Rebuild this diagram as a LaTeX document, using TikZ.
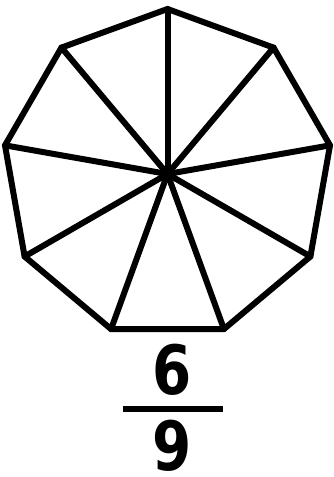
\documentclass[tikz,border=0pt]{standalone}
\usepackage{fontspec}
\usetikzlibrary{calc}
\newfontfamily\digitfont{DejaVu Sans Condensed}[BoldFont={DejaVu Sans Condensed Bold}]
\begin{document}
\begin{tikzpicture}[x=1pt,y=-1pt,
  edge/.style={line width=6pt,line join=miter},
  digit/.style={inner sep=0pt,xscale=0.92,font=\digitfont\bfseries\fontsize{68}{68}\selectfont}]
\useasboundingbox (0,0) rectangle (334,477);
\coordinate (c) at (167.5,174);
\foreach \i in {0,...,8}{
  \coordinate (v\i) at ($(c)+({90-40*\i}:165 and -165)$);
}
\draw[edge] (v0)--(v1)--(v2)--(v3)--(v4)--(v5)--(v6)--(v7)--(v8)--cycle;
\foreach \i in {0,...,8}{ \draw[edge,line cap=round] (c)--(v\i); }
\node[digit,anchor=base] (num) at (172,394) {6};
\draw[line width=5.5pt] (123,409) coordinate (l) -- (223,409) coordinate (r);
\node[digit,anchor=base] (den) at (172,470) {9};
\end{tikzpicture}
\end{document}
